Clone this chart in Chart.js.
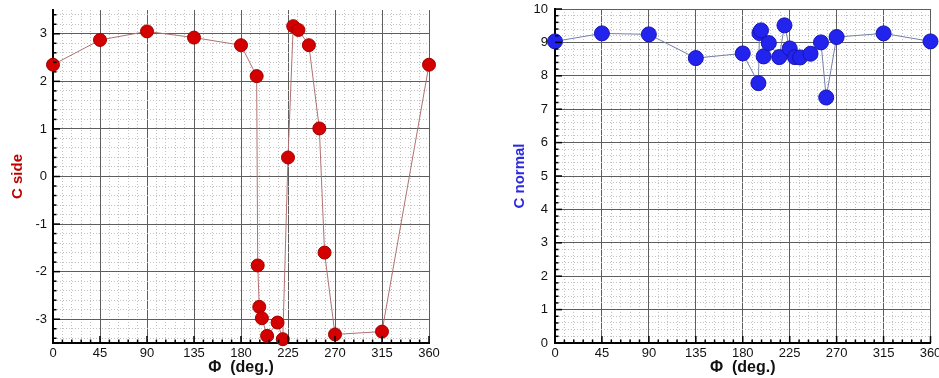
<!DOCTYPE html>
<html><head><meta charset="utf-8">
<script src="https://cdn.jsdelivr.net/npm/chart.js@4/dist/chart.umd.min.js"></script>
<style>
html,body{margin:0;padding:0;background:#fff;}
#wrap{position:relative;width:939px;height:378px;overflow:hidden;background:#fff;}
#c1{position:absolute;left:0;top:0;}
#c2{position:absolute;left:470px;top:0;}
</style></head><body>
<div id="wrap"><canvas id="c1" width="470" height="378"></canvas><canvas id="c2" width="469" height="378"></canvas></div>
<script>
// Azimuth angle Φ (deg.)
const phi = [0, 45, 90, 135, 180, 195, 196, 197.5, 200, 205, 215, 220, 225, 230, 235, 245, 255, 260, 270, 315, 360];
// C side (left panel)
const cSide = [2.35, 2.87, 3.05, 2.92, 2.76, 2.11, -1.87, -2.74, -2.98, -3.35, -3.07, -3.42, 0.40, 3.16, 3.08, 2.76, 1.01, -1.60, -3.32, -3.26, 2.35];
// C normal (right panel)
const cNormal = [9.03, 9.27, 9.24, 8.53, 8.67, 7.78, 9.28, 9.36, 8.58, 8.98, 8.56, 9.51, 8.82, 8.56, 8.55, 8.66, 9.00, 7.35, 9.16, 9.27, 9.03];
// labelled ticks
const xTickLabels = [0, 45, 90, 135, 180, 225, 270, 315, 360];
const sideTickLabels = [-3, -2, -1, 0, 1, 2, 3];
const normalTickLabels = [0, 1, 2, 3, 4, 5, 6, 7, 8, 9, 10];

const FONT = "'Liberation Sans', Arial, sans-serif";
const near = (a, b) => Math.abs(a - b) < 1e-6;
const isIn = (arr, v) => arr.some(a => near(a, v));

function range(a, b, s) { const out = []; const n = Math.round((b - a) / s); for (let i = 0; i <= n; i++) out.push(Math.round((a + i * s) * 1000) / 1000); return out; }

const innerTicks = {
  id: 'innerTicks',
  afterDraw(chart, args, o) {
    const ctx = chart.ctx, ca = chart.chartArea;
    ctx.save();
    ctx.strokeStyle = '#000';
    ctx.lineWidth = 1.5;
    const xs = chart.scales.x, ys = chart.scales.y;
    xs.ticks.forEach(t => {
      const p = xs.getPixelForValue(t.value);
      const len = isIn(xTickLabels, t.value) ? 7 : 3.5;
      ctx.beginPath(); ctx.moveTo(p, ca.bottom); ctx.lineTo(p, ca.bottom - len); ctx.stroke();
    });
    ys.ticks.forEach(t => {
      const p = ys.getPixelForValue(t.value);
      const len = isIn(o.yLabels, t.value) ? 7 : 3.5;
      ctx.beginPath(); ctx.moveTo(ca.left, p); ctx.lineTo(ca.left + len, p); ctx.stroke();
    });
    ctx.restore();
  }
};

function makeChart(id, values, cfg) {
  const data = phi.map((p, i) => ({ x: p, y: values[i] }));
  return new Chart(document.getElementById(id), {
    type: 'scatter',
    data: { datasets: [{
      data,
      showLine: true,
      borderColor: cfg.lineColor,
      borderWidth: 1,
      backgroundColor: cfg.pointColor,
      pointBackgroundColor: cfg.pointColor,
      pointBorderColor: cfg.pointBorder,
      pointBorderWidth: 1,
      pointRadius: cfg.radius,
      tension: 0,
      clip: false
    }] },
    plugins: [innerTicks],
    options: {
      responsive: false,
      animation: false,
      layout: { padding: cfg.padding },
      plugins: { legend: { display: false }, tooltip: { enabled: false }, innerTicks: { yLabels: cfg.yLabels } },
      scales: {
        x: {
          type: 'linear', min: 0, max: 360,
          afterBuildTicks: s => { s.ticks = range(0, 360, 9).map(v => ({ value: v })); },
          afterFit: s => { s.height = 35; s.paddingLeft = 0; s.paddingRight = 0; },
          ticks: { autoSkip: false, maxRotation: 0, padding: 3, color: '#111', font: { family: FONT, size: 13 },
            callback: v => isIn(xTickLabels, v) ? String(v) : '' },
          grid: { drawTicks: false, lineWidth: 1,
            color: c => (c.tick && isIn(xTickLabels, c.tick.value)) ? '#5e5e5e' : '#c2c2c2' },
          border: { display: true, color: '#000', width: 2,
            dash: c => (c.tick && !isIn(xTickLabels, c.tick.value)) ? [1, 2] : [] },
          title: { display: true, text: 'Φ  (deg.)', color: '#111', font: { family: FONT, size: 16, weight: 'bold' }, padding: { top: 0, bottom: 1 } }
        },
        y: {
          type: 'linear', min: cfg.ymin, max: cfg.ymax,
          afterBuildTicks: s => { s.ticks = range(cfg.gmin, cfg.gmax, 0.2).map(v => ({ value: v })); },
          afterFit: s => { s.width = cfg.yWidth; s.paddingTop = 0; s.paddingBottom = 0; },
          ticks: { autoSkip: false, padding: cfg.tickPad, color: '#111', font: { family: FONT, size: 13 },
            callback: v => isIn(cfg.yLabels, v) ? String(Math.round(v)) : '' },
          grid: { drawTicks: false, lineWidth: 1,
            color: c => (c.tick && isIn(cfg.yLabels, c.tick.value)) ? '#5e5e5e' : '#c2c2c2' },
          border: { display: true, color: '#000', width: 2,
            dash: c => (c.tick && !isIn(cfg.yLabels, c.tick.value)) ? [1, 2] : [] },
          title: { display: true, text: cfg.title, color: cfg.titleColor, font: { family: FONT, size: 15, weight: 'bold' }, padding: { top: cfg.titlePad, bottom: 0 } }
        }
      }
    }
  });
}

makeChart('c1', cSide, {
  lineColor: '#b07070', pointColor: '#d40000', pointBorder: '#a00000', radius: 6.5,
  padding: { top: 10, right: 41, bottom: 0, left: 0 },
  ymin: -3.5, ymax: 3.5, gmin: -3.4, gmax: 3.4, yLabels: sideTickLabels,
  yWidth: 53, tickPad: 6, title: 'C side', titleColor: '#c00000', titlePad: 9
});
makeChart('c2', cNormal, {
  lineColor: '#7080a8', pointColor: '#2323ee', pointBorder: '#1515b0', radius: 7.5,
  padding: { top: 9, right: 8, bottom: 0, left: 0 },
  ymin: 0, ymax: 10, gmin: 0, gmax: 10, yLabels: normalTickLabels,
  yWidth: 85, tickPad: 7, title: 'C normal', titleColor: '#2a2ae0', titlePad: 41
});
</script>
</body></html>
